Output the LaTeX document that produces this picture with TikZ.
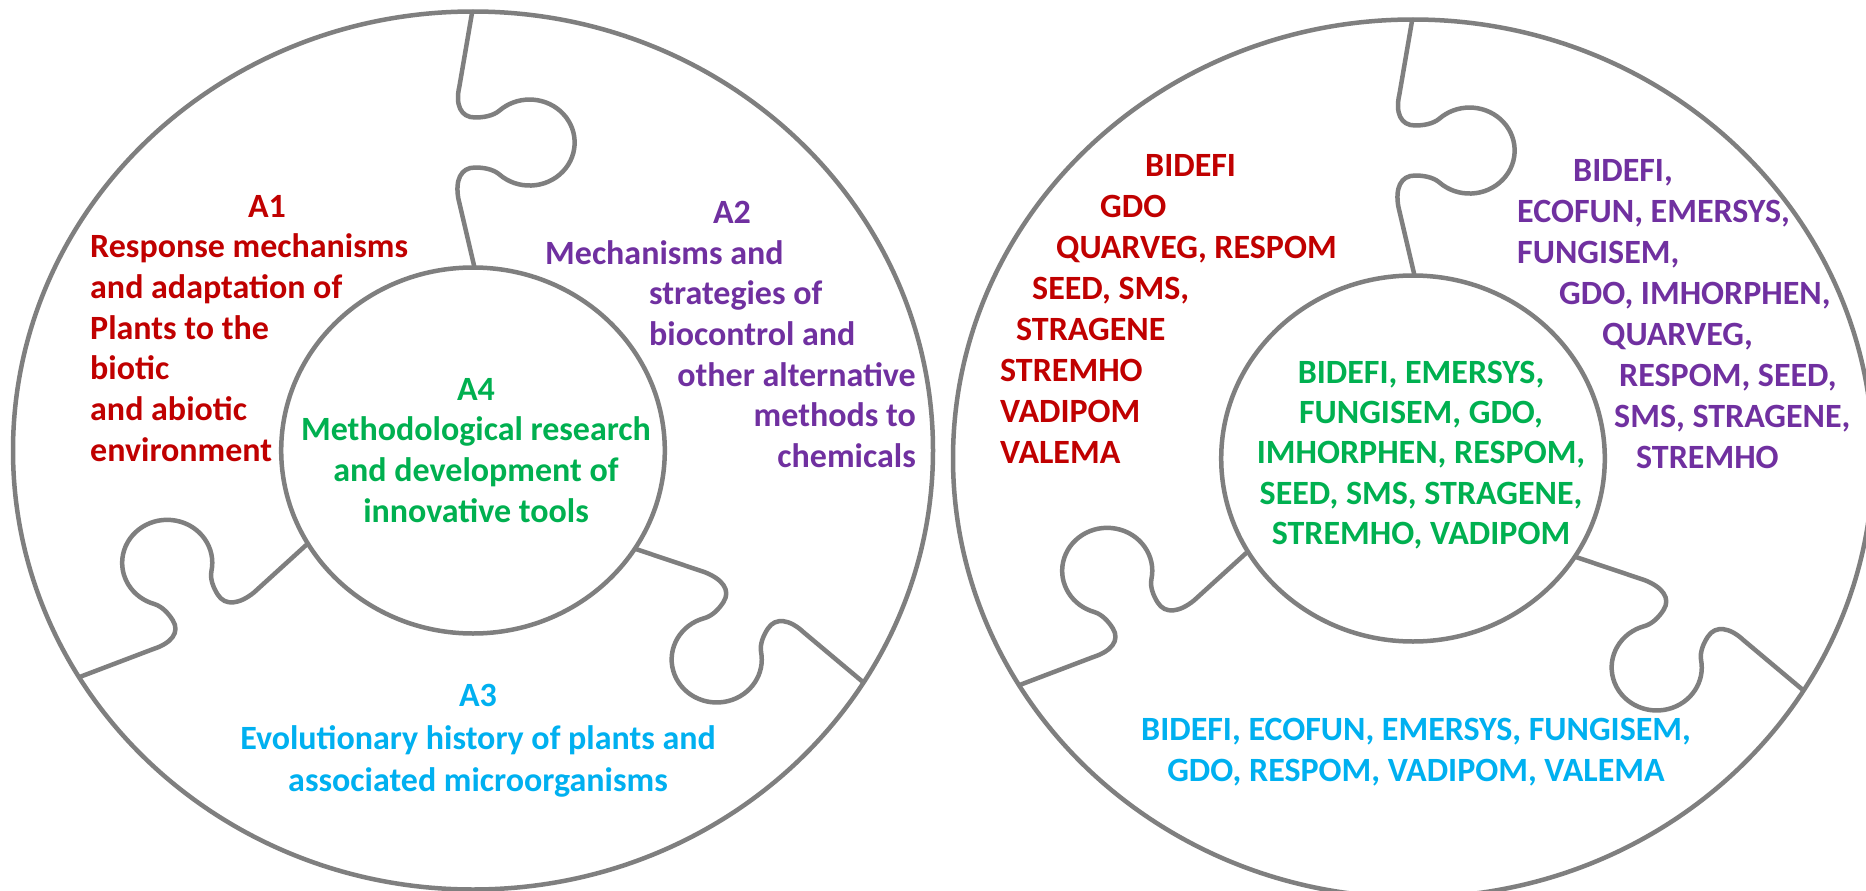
\documentclass[tikz,border=0pt]{standalone}
\usepackage{fontspec}
\setmainfont{Carlito}
\definecolor{cred}{HTML}{C00000}
\definecolor{cpurple}{HTML}{7030A0}
\definecolor{cgreen}{HTML}{00B050}
\definecolor{ccyan}{HTML}{00B0F0}
\definecolor{cline}{HTML}{7F7F7F}
\begin{document}
\begin{tikzpicture}[x=1pt,y=-1pt,
  ring/.style={draw=cline, line width=4.5pt, line join=round},
  lbl/.style={font=\bfseries\fontsize{34}{40}\selectfont, inner sep=0pt},
  redt/.style={lbl, text=cred},
  purt/.style={lbl, text=cpurple},
  grnt/.style={lbl, text=cgreen},
  cyat/.style={lbl, text=ccyan}]
\useasboundingbox (0,0) rectangle (1866,891);
\fill[white] (0,0) rectangle (1866,891);

\foreach \cx/\cy in {473/450.5,1413/458.5}{
  \begin{scope}
    \clip (\cx,\cy) ellipse [x radius=460, y radius=439];
    \begin{scope}[shift={(\cx,\cy)}, xscale=1.048]
      \foreach \ang in {270,32,149}{
        \draw[ring, rotate=-\ang] (176,3) -- (252,-14)
          .. controls (270,-17) and (283,-12) .. (283,2)
          .. controls (283,10) and (281.4,19.1) .. (276.2,25)
          arc[start angle=222.4, end angle=-42.4, radius=43]
          .. controls (334.6,19.1) and (333,10) .. (333,2)
          .. controls (333,-12) and (346,-17) .. (364,-13)
          -- (480,6);
      }
    \end{scope}
  \end{scope}
  \draw[ring, fill=white] (\cx,\cy) ellipse [x radius=191.8, y radius=183];
  \draw[ring] (\cx,\cy) ellipse [x radius=460, y radius=439];
}

% left unit
\node[redt, anchor=base] (a1) at (267,217) {A1};
\node[redt, anchor=base west] (a1l1) at (90,257.5) {Response mechanisms};
\node[redt, anchor=base west] (a1l2) at (90,298) {and adaptation of};
\node[redt, anchor=base west] (a1l3) at (90,339) {Plants to the};
\node[redt, anchor=base west] (a1l4) at (90,379.5) {biotic};
\node[redt, anchor=base west] (a1l5) at (90,420) {and abiotic};
\node[redt, anchor=base west] (a1l6) at (90,461) {environment};

\node[purt, anchor=base] (a2) at (732,223) {A2};
\node[purt, anchor=base west] (a2l1) at (545,264) {Mechanisms and};
\node[purt, anchor=base west] (a2l2) at (649,304) {strategies of};
\node[purt, anchor=base west] (a2l3) at (649,345) {biocontrol and};
\node[purt, anchor=base east] (a2l4) at (916,386) {other alternative};
\node[purt, anchor=base east] (a2l5) at (916,426) {methods to};
\node[purt, anchor=base east] (a2l6) at (916,467) {chemicals};

\node[grnt, anchor=base] (a4) at (476,400) {A4};
\node[grnt, anchor=base] (a4l1) at (476,440) {Methodological research};
\node[grnt, anchor=base] (a4l2) at (476,481) {and development of};
\node[grnt, anchor=base] (a4l3) at (476,522) {innovative tools};

\node[cyat, anchor=base] (a3) at (478,706) {A3};
\node[cyat, anchor=base] (a3l1) at (478,749) {Evolutionary history of plants and};
\node[cyat, anchor=base] (a3l2) at (478,791) {associated microorganisms};

% right unit
\node[redt, anchor=base west] (r1) at (1145,176) {BIDEFI};
\node[redt, anchor=base west] (r2) at (1100,217) {GDO};
\node[redt, anchor=base west] (r3) at (1056,258) {QUARVEG, RESPOM};
\node[redt, anchor=base west] (r4) at (1032,299) {SEED, SMS,};
\node[redt, anchor=base west] (r5) at (1016,340) {STRAGENE};
\node[redt, anchor=base west] (r6) at (1000,381) {STREMHO};
\node[redt, anchor=base west] (r7) at (1000,422) {VADIPOM};
\node[redt, anchor=base west] (r8) at (1000,463) {VALEMA};

\node[grnt, anchor=base] (g1) at (1421,383) {BIDEFI, EMERSYS,};
\node[grnt, anchor=base] (g2) at (1421,423) {FUNGISEM, GDO,};
\node[grnt, anchor=base] (g3) at (1421,463) {IMHORPHEN, RESPOM,};
\node[grnt, anchor=base] (g4) at (1421,504) {SEED, SMS, STRAGENE,};
\node[grnt, anchor=base] (g5) at (1421,544) {STREMHO, VADIPOM};

\node[purt, anchor=base west] (p1) at (1573,181) {BIDEFI,};
\node[purt, anchor=base west] (p2) at (1517,222) {ECOFUN, EMERSYS,};
\node[purt, anchor=base west] (p3) at (1517,263) {FUNGISEM,};
\node[purt, anchor=base west] (p4) at (1559,304) {GDO, IMHORPHEN,};
\node[purt, anchor=base west] (p5) at (1602,345) {QUARVEG,};
\node[purt, anchor=base west] (p6) at (1619,386) {RESPOM, SEED,};
\node[purt, anchor=base west] (p7) at (1614,427) {SMS, STRAGENE,};
\node[purt, anchor=base west] (p8) at (1636,468) {STREMHO};

\node[cyat, anchor=base] (c1) at (1416,740) {BIDEFI, ECOFUN, EMERSYS, FUNGISEM,};
\node[cyat, anchor=base] (c2) at (1416,781) {GDO, RESPOM, VADIPOM, VALEMA};
\end{tikzpicture}
\end{document}
